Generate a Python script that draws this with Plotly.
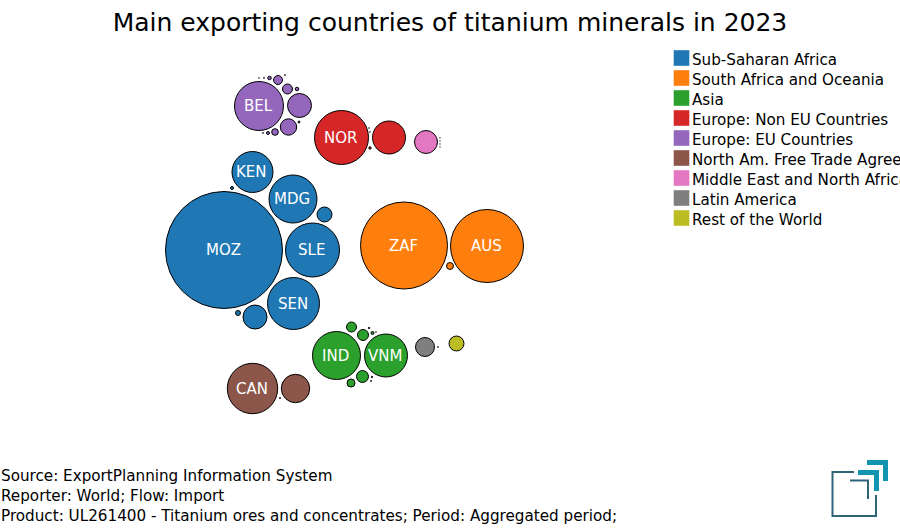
import plotly.graph_objects as go

title = "Main exporting countries of titanium minerals in 2023"
source_lines = [
    "Source: ExportPlanning Information System",
    "Reporter: World; Flow: Import",
    "Product: UL261400 - Titanium ores and concentrates; Period: Aggregated period;",
]

regions = [
    "Sub-Saharan Africa",
    "South Africa and Oceania",
    "Asia",
    "Europe: Non EU Countries",
    "Europe: EU Countries",
    "North Am. Free Trade Agreement",
    "Middle East and North Africa",
    "Latin America",
    "Rest of the World",
]
colors = ["#1f77b4", "#ff7f0e", "#2ca02c", "#d62728", "#9467bd",
          "#8c564b", "#e377c2", "#7f7f7f", "#bcbd22"]

# bubble centres on the packed layout, values are relative export size
ssa_labels = ["MOZ", "KEN", "MDG", "SLE", "SEN", "", "", "", ""]
ssa_x = [224, 252.5, 293, 312.5, 293.5, 324.5, 255, 238, 232]
ssa_y = [250, 172, 199, 250, 303.5, 214.5, 317, 313, 188]
ssa_val = [3422, 420, 576, 729, 676, 56, 144, 6.2, 2.2]

oce_labels = ["ZAF", "AUS", ""]
oce_x = [404, 487, 450]
oce_y = [245.5, 246, 266]
oce_val = [1892, 1332, 12]

asia_labels = ["IND", "VNM", "", "", "", "", "", "", "", "", ""]
asia_x = [336.5, 386, 351.5, 363, 372.5, 369, 376, 362.5, 351, 372, 371]
asia_y = [355.5, 355.5, 327, 335, 333, 328, 332, 376.5, 383, 377, 381]
asia_val = [576, 462, 25, 30, 2.2, 0.6, 0.1, 36, 16, 0.6, 0.25]

eur_non_labels = ["NOR", "", "", "", ""]
eur_non_x = [341.5, 389, 370, 369, 370]
eur_non_y = [137.5, 137.5, 148, 128, 132]
eur_non_val = [729, 272, 1.4, 0.1, 0.1]

eur_labels = ["BEL", "", "", "", "", "", "", "", "", "", "", "", "", ""]
eur_x = [259, 299.5, 288.5, 287.5, 278, 269.5, 297, 275, 268, 299, 263, 264, 259, 285]
eur_y = [106, 105.5, 127, 89, 80, 78, 89, 132, 133, 122, 133, 78, 78, 75]
eur_val = [600, 144, 67, 25, 20, 3.2, 3.2, 11, 2.2, 1, 0.2, 0.2, 0.1, 0.2]

nafta_labels = ["CAN", "", ""]
nafta_x = [252.5, 295.5, 280]
nafta_y = [388.5, 388.5, 398]
nafta_val = [635, 202, 0.3]

mena_labels = ["", "", "", "", ""]
mena_x = [426, 440, 440, 440, 440]
mena_y = [142, 138, 141, 144, 147]
mena_val = [132, 0.05, 0.05, 0.05, 0.05]

latam_labels = ["", ""]
latam_x = [425, 438]
latam_y = [347, 347]
latam_val = [90, 0.2]

row_labels = [""]
row_x = [456.5]
row_y = [343.5]
row_val = [56]

series = [
    (ssa_x, ssa_y, ssa_val, ssa_labels),
    (oce_x, oce_y, oce_val, oce_labels),
    (asia_x, asia_y, asia_val, asia_labels),
    (eur_non_x, eur_non_y, eur_non_val, eur_non_labels),
    (eur_x, eur_y, eur_val, eur_labels),
    (nafta_x, nafta_y, nafta_val, nafta_labels),
    (mena_x, mena_y, mena_val, mena_labels),
    (latam_x, latam_y, latam_val, latam_labels),
    (row_x, row_y, row_val, row_labels),
]

FONT = "DejaVu Sans"

fig = go.Figure()

for (xs, ys, vals, labels), name, color in zip(series, regions, colors):
    fig.add_trace(go.Scatter(
        x=xs, y=ys, name=name,
        mode="markers",
        marker=dict(size=vals, sizemode="area", sizeref=0.5, sizemin=0,
                    color=color, line=dict(color="black", width=1), opacity=1),
        showlegend=False,
    ))

annotations = []
# country codes sit a touch left of the bubble centre
for xs, ys, vals, labels in series:
    for x, y, label in zip(xs, ys, labels):
        if label:
            annotations.append(dict(x=x - 0.7, y=y, xref="x", yref="y", text=label,
                                    showarrow=False, xanchor="center", yanchor="middle",
                                    font=dict(family=FONT, size=15, color="white")))

# legend drawn by hand, square swatches and the long name runs off the page
fig.add_trace(go.Scatter(
    x=[681.5] * len(regions),
    y=[58 + 20 * i for i in range(len(regions))],
    mode="markers",
    marker=dict(symbol="square", size=16, color=colors,
                line=dict(color="rgba(255,255,255,0.4)", width=1)),
    showlegend=False,
    hoverinfo="skip",
))

for i, name in enumerate(regions):
    annotations.append(dict(x=690, y=60 + 20 * i, xref="x", yref="y", text=name,
                            showarrow=False, xanchor="left", yanchor="middle",
                            font=dict(family=FONT, size=15.15, color="black")))
for i, line in enumerate(source_lines):
    annotations.append(dict(x=0, xshift=-1, y=475.5 + 20 * i, xref="x", yref="y", text=line,
                            showarrow=False, xanchor="left", yanchor="middle",
                            font=dict(family=FONT, size=15.2, color="black")))

# logo
dark = "#2f6478"
teal = "#1295b0"
shapes = [
    dict(type="path", path="M 854 472 L 832.5 472 L 832.5 516 L 876 516 L 876 495",
         line=dict(color=dark, width=2)),
    dict(type="path", path="M 850 480.5 L 868 480.5 L 868 499",
         line=dict(color=dark, width=2)),
    dict(type="path", path="M 858 470 L 879 470 L 879 491 L 874 491 L 874 475 L 858 475 Z",
         fillcolor=teal, line=dict(width=0)),
    dict(type="path", path="M 867 460 L 888 460 L 888 481 L 883 481 L 883 465 L 867 465 Z",
         fillcolor=teal, line=dict(width=0)),
]

fig.update_layout(
    width=900, height=530,
    margin=dict(l=0, r=0, t=0, b=0),
    paper_bgcolor="white", plot_bgcolor="white",
    title=dict(text=title, x=0.5, y=0.958, xanchor="center", yanchor="middle",
               font=dict(family=FONT, size=25, color="black")),
    xaxis=dict(range=[0, 900], visible=False, fixedrange=True),
    yaxis=dict(range=[530, 0], visible=False, fixedrange=True),
    annotations=annotations,
    shapes=shapes,
)

fig.write_html("out.html", config={"displayModeBar": False},
               post_script="document.body.style.margin='0';")
